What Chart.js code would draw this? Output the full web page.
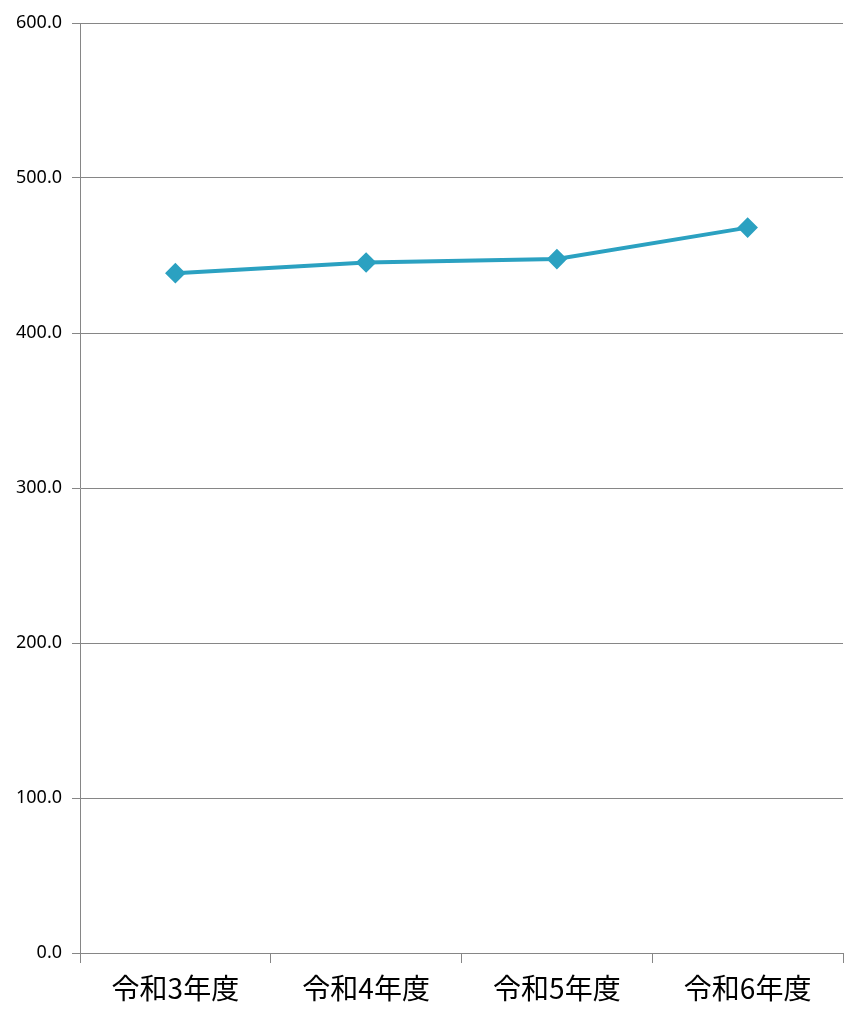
<!DOCTYPE html>
<html>
<head>
<meta charset="utf-8">
<script src="https://cdn.jsdelivr.net/npm/chart.js@4/dist/chart.umd.min.js"></script>
<style>
  html, body { margin: 0; padding: 0; background: #fff; }
  #wrap { width: 867px; height: 1024px; }
</style>
</head>
<body>
<div id="wrap"><canvas id="chart" width="867" height="1024"></canvas></div>
<script>
const categories = ['令和3年度', '令和4年度', '令和5年度', '令和6年度'];
const values = [438.6, 445.5, 447.7, 468.0];
const yMin = 0;
const yMax = 600;
const yStep = 100;

const gridColor = '#868686';
const lineColor = '#2BA1C1';

function initChart() {
  const ctx = document.getElementById('chart').getContext('2d');
  new Chart(ctx, {
    type: 'line',
    data: {
      labels: categories,
      datasets: [{
        data: values,
        borderColor: lineColor,
        backgroundColor: lineColor,
        borderWidth: 4,
        pointStyle: 'rectRot',
        pointRadius: 7.5,
        pointHoverRadius: 7.5,
        tension: 0,
        fill: false
      }]
    },
    options: {
      responsive: false,
      animation: false,
      layout: { padding: { top: 23, right: 24, left: 0, bottom: 0 } },
      plugins: { legend: { display: false }, tooltip: { enabled: false } },
      scales: {
        x: {
          offset: true,
          grid: { offset: true, drawOnChartArea: false, color: gridColor, tickLength: 10, tickColor: gridColor },
          border: { color: gridColor, width: 1 },
          ticks: { color: '#000', font: { family: '"Noto Sans CJK JP"', size: 28 }, padding: 9 },
          afterFit: s => { s.height = 71; }
        },
        y: {
          min: yMin,
          max: yMax,
          grid: { color: gridColor, tickLength: 8, tickColor: gridColor },
          border: { color: gridColor, width: 1 },
          ticks: {
            stepSize: yStep,
            color: '#000',
            padding: 10,
            font: { family: '"Noto Sans"', size: 18 },
            callback: v => Number(v).toFixed(1)
          },
          afterFit: s => { s.width = 80; }
        }
      }
    }
  });
}

if (document.readyState === 'loading') {
  document.addEventListener('DOMContentLoaded', initChart, { once: true });
} else {
  initChart();
}
</script>
</body>
</html>
